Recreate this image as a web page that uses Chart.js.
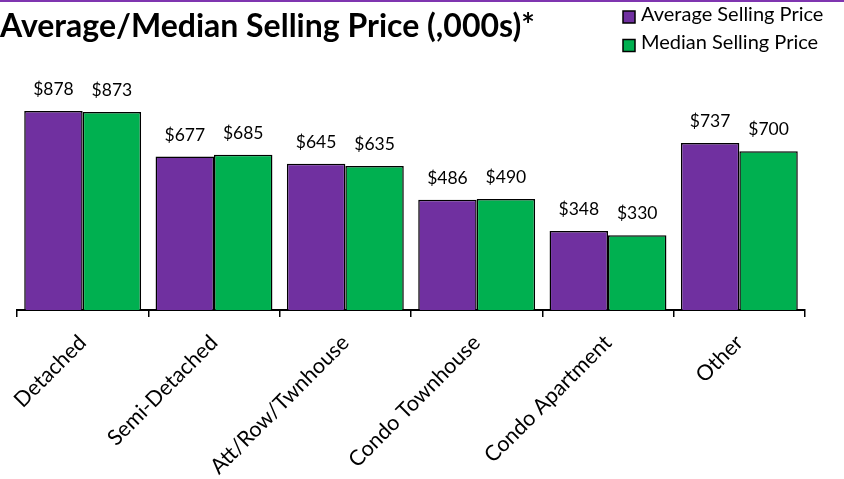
<!DOCTYPE html>
<html>
<head>
<meta charset="utf-8">
<script src="https://cdn.jsdelivr.net/npm/chart.js@4.4.0/dist/chart.umd.min.js"></script>
<style>
  html, body { margin: 0; padding: 0; background: #fff; }
  #wrap { width: 844px; height: 479px; position: relative; }
</style>
</head>
<body>
<div id="wrap"><canvas id="priceChart"></canvas></div>
<script>
// Категории жилья
const categories = ['Detached', 'Semi-Detached', 'Att/Row/Twnhouse', 'Condo Townhouse', 'Condo Apartment', 'Other'];
// Средняя и медианная цена, тыс. $
const averagePrice = [878, 677, 645, 486, 348, 737];
const medianPrice = [873, 685, 635, 490, 330, 700];

const FONT = 'Lato';

// Полоса сверху
const topLine = {
    id: 'topLine',
    afterDraw(chart) {
        const c = chart.ctx;
        c.save();
        c.fillStyle = '#7F35B0';
        c.fillRect(0, 0, chart.width, 2);
        c.restore();
    }
};

// Подписи значений над столбцами
const valueLabels = {
    id: 'valueLabels',
    afterDatasetsDraw(chart) {
        const c = chart.ctx;
        c.save();
        c.font = '17.5px ' + FONT;
        c.fillStyle = '#000';
        c.textAlign = 'center';
        c.textBaseline = 'alphabetic';
        chart.data.datasets.forEach((ds, i) => {
            chart.getDatasetMeta(i).data.forEach((bar, j) => {
                c.fillText('$' + ds.data[j], bar.x, bar.y - 16);
            });
        });
        c.restore();
    }
};

// Легенда в правом верхнем углу, столбиком
const cornerLegend = {
    id: 'cornerLegend',
    afterDraw(chart) {
        const c = chart.ctx;
        c.save();
        c.font = '20px ' + FONT;
        c.textBaseline = 'alphabetic';
        c.textAlign = 'left';
        chart.data.datasets.forEach((ds, i) => {
            const top = 11 + i * 28.5;
            c.fillStyle = ds.backgroundColor;
            c.fillRect(623, top, 12, 12);
            c.lineWidth = 1.5;
            c.strokeStyle = '#000';
            c.strokeRect(623, top, 12, 12);
            c.fillStyle = '#000';
            c.fillText(ds.label, 641, top + 9.8);
        });
        c.restore();
    }
};

const ctx = document.getElementById('priceChart').getContext('2d');

const chart = new Chart(ctx, {
    type: 'bar',
    data: {
        labels: categories,
        datasets: [{
            label: 'Average Selling Price',
            data: averagePrice,
            backgroundColor: '#7030A0',
            borderColor: '#000',
            borderWidth: 1.5
        }, {
            label: 'Median Selling Price',
            data: medianPrice,
            backgroundColor: '#00B050',
            borderColor: '#000',
            borderWidth: 1.5
        }]
    },
    options: {
        responsive: true,
        maintainAspectRatio: false,
        animation: false,
        datasets: {
            bar: { categoryPercentage: 0.89, barPercentage: 1.0 }
        },
        layout: { padding: { left: 0, right: 39, top: 0, bottom: 0 } },
        plugins: {
            legend: { display: false },
            tooltip: { enabled: false },
            title: {
                display: true,
                text: 'Average/Median Selling Price (,000s)*',
                align: 'start',
                color: '#000',
                font: { family: FONT, size: 32, weight: 'bold' },
                padding: { top: 7, bottom: 37.9 }
            }
        },
        scales: {
            x: {
                border: { display: true, color: '#000', width: 2 },
                grid: {
                    display: true,
                    drawOnChartArea: false,
                    drawTicks: true,
                    tickLength: 7,
                    color: '#000',
                    lineWidth: 1.5
                },
                ticks: {
                    color: '#000',
                    font: { family: FONT, size: 21.5 },
                    minRotation: 45,
                    maxRotation: 45,
                    autoSkip: false,
                    padding: 13
                },
                afterFit(scale) { scale.height = 169; }
            },
            y: {
                min: 0,
                max: 1000,
                display: true,
                border: { display: false },
                grid: { display: false },
                ticks: { display: false },
                afterFit(scale) { scale.width = 17; }
            }
        }
    },
    plugins: [topLine, valueLabels, cornerLegend]
});
</script>
</body>
</html>
